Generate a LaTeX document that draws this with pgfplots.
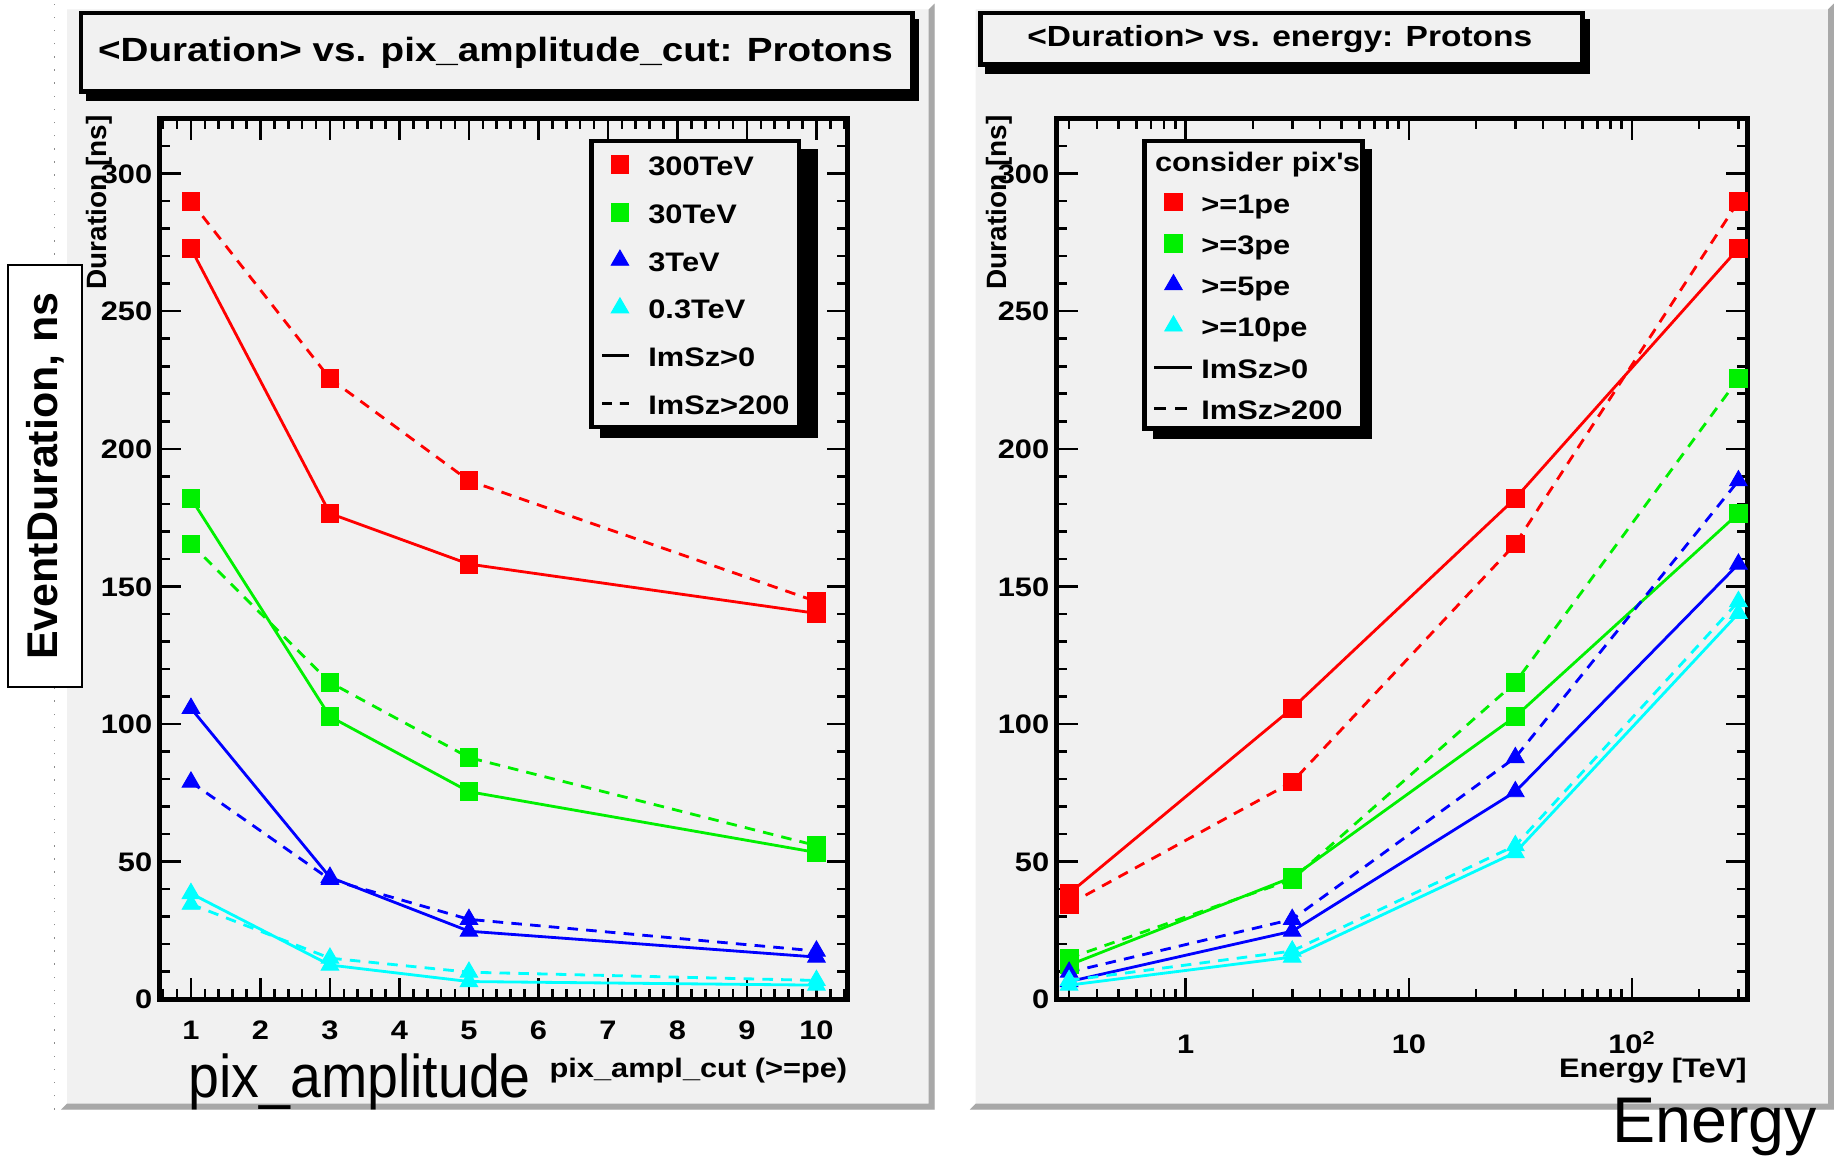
\documentclass[border=0pt]{standalone}
\usepackage{fontspec}
\setmainfont{Liberation Sans}
\newfontfamily\rootfont{Liberation Sans}[FakeStretch=1.15]
\newfontfamily\narrowfont{Liberation Sans}[FakeStretch=0.92]
\usepackage{pgfplots}
\pgfplotsset{compat=1.18}

\definecolor{padgray}{RGB}{241,241,241}
\definecolor{bevdark}{RGB}{168,168,168}
\definecolor{rred}{RGB}{255,0,0}
\definecolor{rgreen}{RGB}{0,240,0}
\definecolor{rblue}{RGB}{0,0,255}
\definecolor{rcyan}{RGB}{0,255,255}

\pgfplotsset{
  rootaxis/.style={
    scale only axis,
    ymin=0, ymax=320,
    ytick={0,50,...,300},
    minor ytick={10,20,...,310},
    tick align=inside,
    major tick length=9pt, minor tick length=4.5pt,
    axis line style={line width=2.2pt},
    tick style={black, line width=1.1pt},
    tick label style={font=\rootfont\bfseries\fontsize{11.4}{12}\selectfont, inner sep=0pt, text height=8.2pt, text depth=0pt},
    /pgf/number format/assume math mode=true,
    yticklabel style={xshift=-3pt},
    clip=false,
    legend cell align=left,
  },
  s/.style={line width=1.2pt, solid, mark options={solid, line width=0.4pt}},
  d/.style={line width=1.2pt, dash pattern=on 4.5pt off 3.5pt, mark options={solid, line width=0.4pt}},
  sq/.style={mark=square*, mark size=3.8pt},
  tri/.style={mark=triangle*, mark size=4.3pt},
}

\begin{document}
\begin{tikzpicture}[x=1pt,y=1pt]
\path[use as bounding box] (0,0) rectangle (784,492.5);
\fill[white] (0,0) rectangle (784,492.5);
% faint artifact line
\draw[black!45, line width=0.4pt, dash pattern=on 0.6pt off 5pt] (23.3,20) -- (23.3,492);
% pads
\foreach \xa/\xb in {26/398, 413/781} {
  \fill[padgray] (\xa,20) rectangle (\xb,491);
  \fill[white] (\xa,20) -- (\xa,491) -- (\xb,491) -- (\xb-2.5,488.5) -- (\xa+2.5,488.5) -- (\xa+2.5,22.5) -- cycle;
  \fill[bevdark] (\xb,491) -- (\xb,20) -- (\xa,20) -- (\xa+2.5,22.5) -- (\xb-2.5,22.5) -- (\xb-2.5,488.5) -- cycle;
}
% title boxes
\fill[black] (36.5,449.5) rectangle (391.5,484.5);
\draw[line width=2pt, fill=padgray] (34.5,453.5) rectangle (388.5,487);
\node[font=\rootfont\bfseries\fontsize{14.3}{16}\selectfont] at (211,470) {<Duration> vs. pix\_amplitude\_cut: Protons};
\fill[black] (419.5,461) rectangle (677,484.5);
\draw[line width=2pt, fill=padgray] (417.5,465) rectangle (674,487);
\node[font=\rootfont\bfseries\fontsize{12.4}{14}\selectfont] at (545,475.75) {<Duration> vs. energy: Protons};
% legend shadows (legend boxes are drawn by the axes on top)
\fill[black] (255.5,306.1) rectangle (348.4,428.9);
\fill[black] (491,305.5) rectangle (584.4,429);

% ---------------- left axis
\begin{axis}[rootaxis, name=L,
  at={(68pt,67pt)}, anchor=south west, width=293pt, height=375pt,
  xmin=0.55, xmax=10.45,
  xtick={1,...,10}, minor xtick={0.6,0.8,...,10.4},
  xticklabel style={yshift=-8.8pt},
  legend image code/.code={\draw[mark repeat=2,mark phase=2,#1] plot coordinates {(0pt,0pt) (7.5pt,0pt) (11.5pt,0pt)};},
  legend style={at={(0.6246,0.977)}, anchor=north west, draw=black, line width=1.8pt, fill=padgray,
    font=\rootfont\bfseries\fontsize{11.4}{12}\selectfont,
    inner xsep=4pt, inner ysep=5.5pt, row sep=10.9pt, column sep=7.5pt,
    nodes={inner sep=0pt, text height=9.4pt, text depth=0pt},
    column 2/.style={nodes={text width=65pt}}},
]
\addplot[rred, s, sq, forget plot] coordinates {(1,272.8) (3,176.5) (5,158.1) (10,140.2)};
\addplot[rred, d, sq, forget plot] coordinates {(1,289.9) (3,225.5) (5,188.4) (10,144.5)};
\addplot[rgreen, s, sq, forget plot] coordinates {(1,182.0) (3,102.7) (5,75.4) (10,53.3)};
\addplot[rgreen, d, sq, forget plot] coordinates {(1,165.4) (3,115.1) (5,87.8) (10,55.8)};
\addplot[rblue, s, tri, forget plot] coordinates {(1,105.7) (3,44.3) (5,24.7) (10,15.3)};
\addplot[rblue, d, tri, forget plot] coordinates {(1,78.9) (3,43.5) (5,29.0) (10,17.5)};
\addplot[rcyan, s, tri, forget plot] coordinates {(1,38.4) (3,12.4) (5,6.4) (10,5.1)};
\addplot[rcyan, d, tri, forget plot] coordinates {(1,34.5) (3,14.9) (5,9.8) (10,6.8)};
\addlegendimage{only marks, rred, mark=square*, mark size=3.8pt, line width=0.4pt}
\addlegendentry{300TeV}
\addlegendimage{only marks, rgreen, mark=square*, mark size=3.8pt, line width=0.4pt}
\addlegendentry{30TeV}
\addlegendimage{only marks, rblue, mark=triangle*, mark size=4.3pt, line width=0.4pt}
\addlegendentry{3TeV}
\addlegendimage{only marks, rcyan, mark=triangle*, mark size=4.3pt, line width=0.4pt}
\addlegendentry{0.3TeV}
\addlegendimage{black, line width=1.2pt}
\addlegendentry{ImSz>0}
\addlegendimage{black, line width=1.2pt, dash pattern=on 4pt off 3.5pt}
\addlegendentry{ImSz>200}
\end{axis}

% ---------------- right axis
\begin{axis}[rootaxis, name=R,
  at={(450pt,67pt)}, anchor=south west, width=294pt, height=375pt,
  xmode=log, xmin=0.264, xmax=328,
  xtick={1,10,100}, xticklabels={1,10,10\textsuperscript{2}},
  minor xtick={0.3,0.4,0.5,0.6,0.7,0.8,0.9,2,3,4,5,6,7,8,9,20,30,40,50,60,70,80,90,200,300},
  xticklabel style={yshift=-14.8pt},
  legend image code/.code={\draw[mark repeat=2,mark phase=2,#1] plot coordinates {(0pt,0pt) (8.25pt,0pt) (16pt,0pt)};},
  legend style={at={(0.1241,0.9773)}, anchor=north west, draw=black, line width=1.8pt, fill=padgray,
    font=\rootfont\bfseries\fontsize{11.4}{12}\selectfont,
    inner xsep=3.5pt, inner ysep=3.8pt, row sep=8.2pt, column sep=3.5pt,
    nodes={inner sep=0pt, text height=9.4pt, text depth=0pt}},
]
\addplot[rred, s, sq, forget plot] coordinates {(0.3,38.4) (3,105.7) (30,182.0) (300,272.8)};
\addplot[rred, d, sq, forget plot] coordinates {(0.3,34.5) (3,78.9) (30,165.4) (300,289.9)};
\addplot[rgreen, s, sq, forget plot] coordinates {(0.3,12.4) (3,44.3) (30,102.7) (300,176.5)};
\addplot[rgreen, d, sq, forget plot] coordinates {(0.3,14.9) (3,43.5) (30,115.1) (300,225.5)};
\addplot[rblue, s, tri, forget plot] coordinates {(0.3,6.4) (3,24.7) (30,75.4) (300,158.1)};
\addplot[rblue, d, tri, forget plot] coordinates {(0.3,9.8) (3,29.0) (30,87.8) (300,188.4)};
\addplot[rcyan, s, tri, forget plot] coordinates {(0.3,5.1) (3,15.3) (30,53.3) (300,140.2)};
\addplot[rcyan, d, tri, forget plot] coordinates {(0.3,6.8) (3,17.5) (30,55.8) (300,144.5)};
\addlegendimage{legend image code/.code={\node[anchor=west, inner sep=0pt, text height=9.4pt, text depth=0pt] at (-1pt,0pt) {\makebox[0pt][l]{consider pix\textquotesingle s}};}}
\addlegendentry{}
\addlegendimage{only marks, rred, mark=square*, mark size=3.8pt, line width=0.4pt}
\addlegendentry{>=1pe}
\addlegendimage{only marks, rgreen, mark=square*, mark size=3.8pt, line width=0.4pt}
\addlegendentry{>=3pe}
\addlegendimage{only marks, rblue, mark=triangle*, mark size=4.3pt, line width=0.4pt}
\addlegendentry{>=5pe}
\addlegendimage{only marks, rcyan, mark=triangle*, mark size=4.3pt, line width=0.4pt}
\addlegendentry{>=10pe}
\addlegendimage{black, line width=1.2pt}
\addlegendentry{ImSz>0}
\addlegendimage{black, line width=1.2pt, dash pattern=on 5pt off 4pt}
\addlegendentry{ImSz>200\hspace*{5pt}}
\end{axis}

% axis titles
\node[rotate=90, anchor=north east, inner sep=0pt, font=\bfseries\fontsize{11.9}{12}\selectfont] at (36.5,443.5) {Duration [ns]};
\node[rotate=90, anchor=north east, inner sep=0pt, font=\bfseries\fontsize{11.9}{12}\selectfont] at (420,443.5) {Duration [ns]};
\node[anchor=base east, inner sep=0pt, font=\rootfont\bfseries\fontsize{11.4}{12}\selectfont] at (361,33.5) {pix\_ampl\_cut (>=pe)};
\node[anchor=base east, inner sep=0pt, font=\rootfont\bfseries\fontsize{11.4}{12}\selectfont] at (744,33.5) {Energy [TeV]};

% annotations
\draw[line width=0.9pt, fill=white] (3.5,200) rectangle (35,379.5);
\node[rotate=90, font=\bfseries\fontsize{18.3}{20}\selectfont] at (19.25,289.75) {EventDuration, ns};
\node[anchor=base west, inner sep=0pt, font=\narrowfont\fontsize{25.7}{28}\selectfont] at (80,25) {pix\_amplitude};
\node[anchor=base west, inner sep=0pt, font=\fontsize{27.5}{30}\selectfont] at (686.5,6) {Energy};
\end{tikzpicture}
\end{document}
